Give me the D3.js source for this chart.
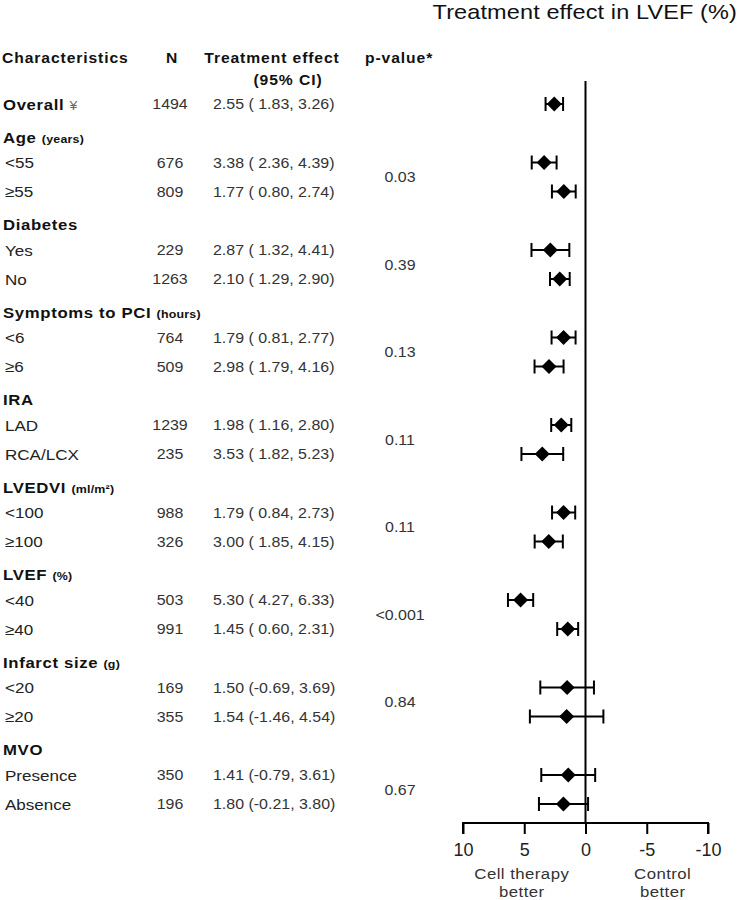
<!DOCTYPE html>
<html>
<head>
<meta charset="utf-8">
<script src="https://cdn.jsdelivr.net/npm/d3@7"></script>
<style>
  html, body { margin: 0; padding: 0; background: #fff; }
  svg { display: block; }
  text { font-family: "Liberation Sans", Arial, Helvetica, sans-serif; }
</style>
</head>
<body>
<svg id="chart" width="740" height="900"></svg>
<script>
// ---------- data ----------
const characteristics = ["Overall","Age","<55","≥55","Diabetes","Yes","No","Symptoms to PCI","<6","≥6","IRA","LAD","RCA/LCX","LVEDVI","<100","≥100","LVEF","<40","≥40","Infarct size","<20","≥20","MVO","Presence","Absence"];
const units = ["¥","(years)","","","","","","(hours)","","","","","","(ml/m²)","","","(%)","","","(g)","","","","",""];
const rowKinds = ["overall","header","sub","sub","header","sub","sub","header","sub","sub","header","sub","sub","header","sub","sub","header","sub","sub","header","sub","sub","header","sub","sub"];
const nValues = [1494,null,676,809,null,229,1263,null,764,509,null,1239,235,null,988,326,null,503,991,null,169,355,null,350,196];
const effects = [2.55,null,3.38,1.77,null,2.87,2.10,null,1.79,2.98,null,1.98,3.53,null,1.79,3.00,null,5.30,1.45,null,1.50,1.54,null,1.41,1.80];
const ciLower = [1.83,null,2.36,0.80,null,1.32,1.29,null,0.81,1.79,null,1.16,1.82,null,0.84,1.85,null,4.27,0.60,null,-0.69,-1.46,null,-0.79,-0.21];
const ciUpper = [3.26,null,4.39,2.74,null,4.41,2.90,null,2.77,4.16,null,2.80,5.23,null,2.73,4.15,null,6.33,2.31,null,3.69,4.54,null,3.61,3.80];
const pGroups = ["Age","Diabetes","Symptoms to PCI","IRA","LVEDVI","LVEF","Infarct size","MVO"];
const pValues = ["0.03","0.39","0.13","0.11","0.11","<0.001","0.84","0.67"];
const axisTicks = [10,5,0,-5,-10];
const title = "Treatment effect in LVEF (%)";
const columnHeaders = ["Characteristics","N","Treatment effect","(95% CI)","p-value*"];
const sideLabels = [["Cell therapy","better"],["Control","better"]];

// ---------- layout ----------
const svg = d3.select("#chart");
const gapRule = (prev, cur) => cur === "header" ? 33 : (prev === "header" ? 25.5 : 29);
const offsets = [0];
for (let i = 1; i < rowKinds.length; i++) offsets.push(offsets[i-1] + gapRule(rowKinds[i-1], rowKinds[i]));
const y = d3.scaleLinear().domain([0, offsets[offsets.length-1]]).range([104, 804]);
const x = d3.scaleLinear().domain([10, -10]).range([463, 708]);
const axisY = 823;

function stext(g, px, py, sx, str) {
  return g.append("text").attr("transform", `translate(${px},${py}) scale(${sx},1)`).text(str);
}

// title
stext(svg, 737, 19, 1.12, title).attr("text-anchor","end").attr("font-size",21).attr("fill","#111").attr("letter-spacing",0.1);

// column headers
const hdr = svg.append("g").attr("font-weight","bold").attr("font-size",14).attr("fill","#111").attr("letter-spacing",0.8);
stext(hdr, 2, 63, 1.12, columnHeaders[0]);
stext(hdr, 172, 63, 1.12, columnHeaders[1]).attr("text-anchor","middle");
stext(hdr, 272, 63, 1.12, columnHeaders[2]).attr("text-anchor","middle");
stext(hdr, 288, 85, 1.12, columnHeaders[3]).attr("text-anchor","middle");
stext(hdr, 365, 63, 1.12, columnHeaders[4]);

// rows
const fmtCI = v => (v < 0 ? v.toFixed(2) : " " + v.toFixed(2));
characteristics.forEach((lab, i) => {
  const yy = y(offsets[i]);
  const kind = rowKinds[i];
  let t;
  if (kind === "sub") {
    t = stext(svg, 5, yy + 5.5, 1.1, lab).attr("font-size",15.5).attr("fill","#222");
  } else {
    t = stext(svg, kind === "overall" ? 3 : 3, yy + 5.5, 1.08, lab).attr("font-size",15.5).attr("font-weight","bold").attr("fill","#111").attr("letter-spacing",0.6);
    if (units[i]) {
      t.append("tspan").text(" ");
      t.append("tspan").text(units[i])
        .attr("font-size", kind === "overall" ? 13 : 11.5)
        .attr("font-weight", kind === "overall" ? "normal" : "bold")
        .attr("fill", kind === "overall" ? "#666" : "#111")
        .attr("letter-spacing", 0.2);
    }
  }
  if (nValues[i] != null) {
    stext(svg, 170, yy + 5, 1.14, nValues[i]).attr("text-anchor","middle").attr("font-size",14).attr("fill","#333");
    const str = `${effects[i].toFixed(2)} (${fmtCI(ciLower[i])}, ${ciUpper[i].toFixed(2)})`;
    stext(svg, 213, yy + 5, 1.14, str).attr("font-size",14).attr("fill","#333").style("white-space","pre").attr("xml:space","preserve");
  }
});

// p-values
pGroups.forEach((g, k) => {
  const hi = characteristics.indexOf(g);
  const ym = (y(offsets[hi+1]) + y(offsets[hi+2])) / 2;
  stext(svg, 400, ym + 5, 1.14, pValues[k]).attr("text-anchor","middle").attr("font-size",14).attr("fill","#333");
});

// reference line
svg.append("line").attr("x1", x(0)).attr("x2", x(0)).attr("y1", 81).attr("y2", axisY)
  .attr("stroke","#000").attr("stroke-width",2);

// error bars + diamonds
const idx = effects.map((e,i)=> e==null ? null : i).filter(i => i!=null);
const marks = svg.append("g");
idx.forEach(i => {
  const yy = y(offsets[i]);
  const g = marks.append("g").attr("stroke","#000").attr("stroke-width",2);
  g.append("line").attr("x1", x(ciLower[i])).attr("x2", x(ciUpper[i])).attr("y1", yy).attr("y2", yy);
  g.append("line").attr("x1", x(ciLower[i])).attr("x2", x(ciLower[i])).attr("y1", yy-7).attr("y2", yy+7);
  g.append("line").attr("x1", x(ciUpper[i])).attr("x2", x(ciUpper[i])).attr("y1", yy-7).attr("y2", yy+7);
  const cx = x(effects[i]);
  marks.append("path").attr("d", `M${cx-7.5},${yy} L${cx},${yy-7.5} L${cx+7.5},${yy} L${cx},${yy+7.5} Z`).attr("fill","#000");
});

// axis
const ax = svg.append("g").attr("transform", `translate(0,${axisY})`)
  .call(d3.axisBottom(x).tickValues(axisTicks).tickSize(11).tickPadding(9).tickFormat(d => d));
ax.select(".domain").attr("stroke","#000").attr("stroke-width",2).attr("d", `M${x(10)},11V0H${x(-10)}V11`);
ax.selectAll(".tick line").attr("stroke","#000").attr("stroke-width",2);
ax.selectAll(".tick text").attr("font-size",18).attr("fill","#222").attr("font-family","Liberation Sans, Arial, sans-serif");

// side labels
[[x(5.2), sideLabels[0]], [x(-6.3), sideLabels[1]]].forEach(([cx, lines]) => {
  lines.forEach((ln, j) => {
    stext(svg, cx, 879 + j*18, 1.12, ln).attr("text-anchor","middle").attr("font-size",15).attr("fill","#333").attr("letter-spacing",0.4);
  });
});
</script>
</body>
</html>
